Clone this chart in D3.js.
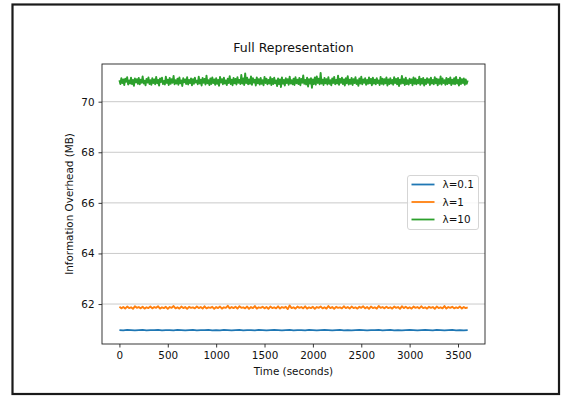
<!DOCTYPE html>
<html>
<head>
<meta charset="utf-8">
<script src="https://cdn.jsdelivr.net/npm/d3@7"></script>
<style>
  html, body { margin: 0; padding: 0; background: #fff; }
  svg { display: block; }
  text { font-family: "DejaVu Sans", sans-serif; fill: #111; }
</style>
</head>
<body>
<svg id="chart" width="564" height="397"></svg>
<script>
// ---------------- data ----------------
const seriesNames = ["λ=0.1", "λ=1", "λ=10"];
const seriesColors = ["#1f77b4", "#ff7f0e", "#2ca02c"];
const xTicks = [0, 500, 1000, 1500, 2000, 2500, 3000, 3500];
const yTicks = [62, 64, 66, 68, 70];

// sampling steps (seconds) for each series
const blueStep = 40, orangeStep = 20, greenStep = 10;

const blueValues = [
60.97,60.96,60.98,60.97,60.96,60.97,60.98,60.96,60.97,60.97,
60.98,60.96,60.97,60.97,60.96,60.98,60.97,60.96,60.97,60.98,
60.96,60.97,60.97,60.98,60.96,60.97,60.96,60.98,60.97,60.96,
60.97,60.98,60.96,60.97,60.97,60.96,60.98,60.97,60.96,60.97,
60.98,60.97,60.96,60.97,60.98,60.96,60.97,60.97,60.96,60.98,
60.97,60.96,60.97,60.98,60.97,60.96,60.97,60.98,60.96,60.97,
60.96,60.97,60.98,60.97,60.96,60.97,60.97,60.98,60.96,60.97,
60.98,60.96,60.97,60.96,60.97,60.98,60.97,60.96,60.97,60.98,
60.97,60.96,60.98,60.97,60.96,60.97,60.98,60.96,60.97,60.96,
60.97];

const orangeValues = [
61.89,61.83,61.88,61.82,61.90,61.84,61.87,61.81,61.91,61.85,61.88,61.83,61.89,61.82,61.87,61.84,61.90,61.83,61.88,61.85,
61.91,61.82,61.87,61.84,61.89,61.81,61.88,61.85,61.92,61.83,61.87,61.82,61.90,61.84,61.88,61.81,61.89,61.85,61.87,61.83,
61.90,61.84,61.88,61.82,61.91,61.83,61.87,61.85,61.89,61.81,61.88,61.84,61.90,61.82,61.87,61.85,61.93,61.83,61.88,61.84,
61.89,61.82,61.91,61.85,61.87,61.83,61.90,61.81,61.88,61.84,61.92,61.82,61.87,61.85,61.89,61.83,61.88,61.81,61.90,61.84,
61.87,61.83,61.91,61.82,61.88,61.85,61.89,61.80,61.94,61.84,61.87,61.82,61.90,61.85,61.88,61.83,61.91,61.82,61.87,61.84,
61.89,61.81,61.88,61.85,61.90,61.83,61.87,61.82,61.92,61.84,61.88,61.81,61.89,61.85,61.87,61.83,61.91,61.84,61.88,61.82,
61.90,61.84,61.87,61.82,61.89,61.85,61.91,61.83,61.88,61.81,61.90,61.84,61.87,61.82,61.92,61.85,61.88,61.83,61.89,61.84,
61.87,61.82,61.90,61.85,61.88,61.81,61.91,61.84,61.89,61.83,61.87,61.82,61.90,61.85,61.88,61.83,61.91,61.84,61.87,61.82,
61.89,61.85,61.88,61.81,61.90,61.84,61.87,61.83,61.92,61.82,61.88,61.85,61.89,61.83,61.87,61.84,61.90,61.82,61.88,61.84,
61.87];

const greenValues = [
70.85,70.70,70.93,70.74,70.88,70.66,70.91,70.79,70.97,70.68,70.84,70.72,70.95,70.70,70.86,70.63,70.92,70.77,70.89,70.71,
70.94,70.69,70.87,70.75,71.00,70.72,70.83,70.65,70.90,70.76,70.96,70.70,70.85,70.67,70.93,70.74,70.88,70.69,70.98,70.73,
70.86,70.64,70.92,70.78,70.95,70.70,70.82,70.68,70.99,70.74,70.87,70.66,70.94,70.71,70.89,70.75,71.02,70.69,70.85,70.72,
70.91,70.67,70.96,70.73,70.84,70.62,70.93,70.77,70.88,70.70,70.97,70.68,70.86,70.74,70.92,70.65,70.89,70.71,70.95,70.76,
70.83,70.69,70.99,70.72,70.87,70.64,70.94,70.75,70.90,70.68,71.03,70.73,70.85,70.66,70.92,70.70,70.96,70.74,70.88,70.67,
70.93,70.71,70.86,70.63,70.98,70.76,70.89,70.69,70.95,70.72,70.84,70.66,70.91,70.74,71.01,70.70,70.87,70.65,70.94,70.73,
70.90,70.68,70.97,70.75,70.86,70.70,71.06,70.72,70.92,70.66,71.12,70.74,70.95,70.69,70.88,70.71,71.00,70.67,70.93,70.76,
70.87,70.64,70.96,70.73,70.89,70.68,70.94,70.71,70.85,70.65,70.98,70.74,70.91,70.69,70.86,70.72,70.97,70.66,70.90,70.70,
70.95,70.73,70.84,70.62,70.92,70.70,70.88,70.58,70.96,70.71,70.86,70.64,70.93,70.74,70.89,70.67,70.99,70.72,70.85,70.69,
70.91,70.66,70.97,70.73,70.87,70.70,70.94,70.65,70.90,70.75,71.04,70.71,70.86,70.68,70.95,70.60,70.89,70.72,70.93,70.55,
70.88,70.70,70.96,70.67,71.00,70.74,70.91,70.69,71.14,70.72,70.87,70.66,70.94,70.73,70.89,70.68,70.97,70.71,70.85,70.65,
70.92,70.74,70.98,70.69,70.86,70.72,71.03,70.67,70.90,70.75,70.95,70.70,70.88,70.64,70.93,70.73,71.01,70.68,70.87,70.71,
70.94,70.66,70.89,70.74,70.97,70.70,70.85,70.63,70.92,70.72,70.99,70.69,70.88,70.75,70.93,70.67,70.86,70.71,70.96,70.73,
70.90,70.65,70.95,70.72,70.87,70.69,70.93,70.74,70.84,70.66,70.98,70.71,70.91,70.68,70.89,70.73,70.96,70.64,70.88,70.70,
70.93,70.72,70.86,70.67,70.97,70.74,70.90,70.69,70.94,70.62,70.87,70.71,71.02,70.73,70.89,70.66,70.95,70.70,70.85,70.68,
70.91,70.74,70.88,70.65,70.96,70.71,70.92,70.69,70.86,70.73,70.99,70.67,70.90,70.72,70.94,70.64,70.87,70.70,70.93,70.75,
70.89,70.66,70.95,70.72,70.86,70.69,70.97,70.73,70.91,70.65,70.88,70.71,71.00,70.68,70.92,70.74,70.85,70.67,70.94,70.70,
70.90,70.73,70.96,70.66,70.87,70.71,70.93,70.69,70.98,70.72,70.86,70.64,70.95,70.70,70.89,70.74,70.92,70.67,70.88,70.71,
70.84];

const series = [
  { name: seriesNames[0], color: seriesColors[0], step: blueStep, values: blueValues },
  { name: seriesNames[1], color: seriesColors[1], step: orangeStep, values: orangeValues },
  { name: seriesNames[2], color: seriesColors[2], step: greenStep, values: greenValues }
];

// ---------------- layout ----------------
const svg = d3.select("#chart");
const plot = { left: 102, right: 485, top: 64, bottom: 344 };

// outer frame
svg.append("rect").attr("x", 12.5).attr("y", 4.5).attr("width", 546.5).attr("height", 389.5)
  .attr("fill", "#fff").attr("stroke", "#1a1a1a").attr("stroke-width", 2.2);

const x = d3.scaleLinear().domain([-180, 3779]).range([plot.left, plot.right]);
const y = d3.scaleLinear().domain([60.42, 71.49]).range([plot.bottom, plot.top]);

// grid (horizontal)
svg.append("g").selectAll("line").data(yTicks).join("line")
  .attr("x1", plot.left).attr("x2", plot.right)
  .attr("y1", d => y(d)).attr("y2", d => y(d))
  .attr("stroke", "#c4c4c4").attr("stroke-width", 0.9);

// lines
const clipId = "plotclip";
svg.append("clipPath").attr("id", clipId).append("rect")
  .attr("x", plot.left).attr("y", plot.top)
  .attr("width", plot.right - plot.left).attr("height", plot.bottom - plot.top);

const lineGen = step => d3.line().x((d, i) => x(i * step)).y(d => y(d));
svg.append("g").attr("clip-path", `url(#${clipId})`)
  .selectAll("path").data(series).join("path")
  .attr("d", s => lineGen(s.step)(s.values))
  .attr("fill", "none").attr("stroke", s => s.color)
  .attr("stroke-width", 1.9).attr("stroke-linejoin", "round");

// axes
const xAxis = d3.axisBottom(x).tickValues(xTicks).tickSize(3.5).tickPadding(4).tickFormat(d3.format("d"));
const yAxis = d3.axisLeft(y).tickValues(yTicks).tickSize(3.5).tickPadding(4).tickFormat(d3.format("d"));

const gx = svg.append("g").attr("transform", `translate(0,${plot.bottom})`).call(xAxis);
const gy = svg.append("g").attr("transform", `translate(${plot.left},0)`).call(yAxis);
[gx, gy].forEach(g => {
  g.select(".domain").remove();
  g.selectAll(".tick line").attr("stroke", "#222").attr("stroke-width", 0.9);
  g.selectAll(".tick text").attr("font-size", 10.4).attr("font-family", "DejaVu Sans, sans-serif").attr("fill", "#111");
});

// spines
svg.append("rect").attr("x", plot.left).attr("y", plot.top)
  .attr("width", plot.right - plot.left).attr("height", plot.bottom - plot.top)
  .attr("fill", "none").attr("stroke", "#222").attr("stroke-width", 0.9);

// title & labels
svg.append("text").attr("x", (plot.left + plot.right) / 2).attr("y", 52)
  .attr("text-anchor", "middle").attr("font-size", 12.5).text("Full Representation");
svg.append("text").attr("x", (plot.left + plot.right) / 2).attr("y", 375)
  .attr("text-anchor", "middle").attr("font-size", 10.4).text("Time (seconds)");
svg.append("text").attr("transform", `translate(73,${(plot.top + plot.bottom) / 2}) rotate(-90)`)
  .attr("text-anchor", "middle").attr("font-size", 10.4).text("Information Overhead (MB)");

// legend
const lg = svg.append("g").attr("transform", "translate(407,175)");
lg.append("rect").attr("x", 0.5).attr("y", 0.5).attr("width", 71).attr("height", 54)
  .attr("rx", 2.5).attr("fill", "#fff").attr("fill-opacity", 0.85)
  .attr("stroke", "#d0d0d0").attr("stroke-width", 0.9);
const rows = lg.selectAll("g.row").data(series).join("g").attr("class", "row")
  .attr("transform", (d, i) => `translate(0,${9.5 + i * 17.5})`);
rows.append("line").attr("x1", 4.5).attr("x2", 27.5).attr("y1", 0).attr("y2", 0)
  .attr("stroke", d => d.color).attr("stroke-width", 1.8);
rows.append("text").attr("x", 35.5).attr("y", 0).attr("dy", "0.35em")
  .attr("font-size", 10.4).text(d => d.name);
</script>
</body>
</html>
